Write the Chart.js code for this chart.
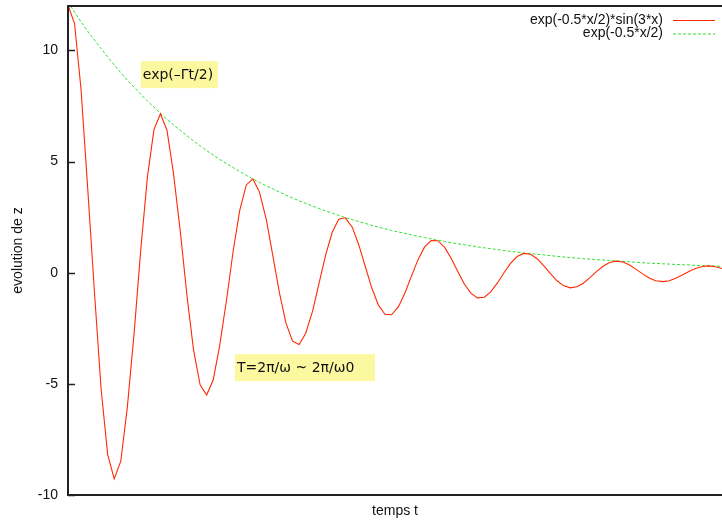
<!DOCTYPE html>
<html>
<head>
<meta charset="utf-8">
<script src="https://cdn.jsdelivr.net/npm/chart.js@4"></script>
<style>
  html, body { margin: 0; padding: 0; background: #fff; }
  #wrap { width: 722px; height: 520px; }
</style>
</head>
<body>
<div id="wrap"><canvas id="dampedChart"></canvas></div>
<script>
// sample positions (t) and values
const tValues = [
    -10.00, -9.85, -9.70, -9.55, -9.39, -9.24, -9.09, -8.94, -8.79, -8.64,
    -8.48, -8.33, -8.18, -8.03, -7.88, -7.73, -7.58, -7.42, -7.27, -7.12,
    -6.97, -6.82, -6.67, -6.52, -6.36, -6.21, -6.06, -5.91, -5.76, -5.61,
    -5.45, -5.30, -5.15, -5.00, -4.85, -4.70, -4.55, -4.39, -4.24, -4.09,
    -3.94, -3.79, -3.64, -3.48, -3.33, -3.18, -3.03, -2.88, -2.73, -2.58,
    -2.42, -2.27, -2.12, -1.97, -1.82, -1.67, -1.52, -1.36, -1.21, -1.06,
    -0.91, -0.76, -0.61, -0.45, -0.30, -0.15, 0.00, 0.15, 0.30, 0.45,
    0.61, 0.76, 0.91, 1.06, 1.21, 1.36, 1.52, 1.67, 1.82, 1.97,
    2.12, 2.27, 2.42, 2.58, 2.73, 2.88, 3.03, 3.18, 3.33, 3.48,
    3.64, 3.79, 3.94, 4.09, 4.24, 4.39, 4.55, 4.70, 4.85, 5.00
];

const dampedSine = [
    12.04, 11.21, 8.23, 3.85, -0.97, -5.24, -8.18, -9.28, -8.48, -6.07,
    -2.64, 1.06, 4.28, 6.43, 7.15, 6.41, 4.46, 1.78, -1.06, -3.48,
    -5.04, -5.50, -4.83, -3.27, -1.17, 1.00, 2.82, 3.95, 4.22, 3.64,
    2.38, 0.75, -0.91, -2.27, -3.08, -3.23, -2.73, -1.73, -0.46, 0.80,
    1.82, 2.41, 2.47, 2.05, 1.25, 0.27, -0.70, -1.46, -1.87, -1.89,
    -1.53, -0.90, -0.14, 0.60, 1.16, 1.45, 1.44, 1.14, 0.64, 0.05,
    -0.51, -0.92, -1.13, -1.10, -0.85, -0.46, 0.00, 0.42, 0.73, 0.87,
    0.83, 0.63, 0.32, -0.03, -0.35, -0.58, -0.68, -0.63, -0.47, -0.22,
    0.05, 0.29, 0.46, 0.52, 0.48, 0.35, 0.15, -0.05, -0.24, -0.36,
    -0.40, -0.36, -0.25, -0.10, 0.06, 0.19, 0.28, 0.31, 0.27, 0.19
];

const envelope = [
    12.18, 11.73, 11.29, 10.87, 10.47, 10.08, 9.71, 9.35, 9.00, 8.66,
    8.34, 8.03, 7.73, 7.45, 7.17, 6.90, 6.65, 6.40, 6.16, 5.93,
    5.71, 5.50, 5.29, 5.10, 4.91, 4.73, 4.55, 4.38, 4.22, 4.06,
    3.91, 3.77, 3.63, 3.49, 3.36, 3.24, 3.12, 3.00, 2.89, 2.78,
    2.68, 2.58, 2.48, 2.39, 2.30, 2.22, 2.13, 2.05, 1.98, 1.90,
    1.83, 1.77, 1.70, 1.64, 1.58, 1.52, 1.46, 1.41, 1.35, 1.30,
    1.26, 1.21, 1.16, 1.12, 1.08, 1.04, 1.00, 0.96, 0.93, 0.89,
    0.86, 0.83, 0.80, 0.77, 0.74, 0.71, 0.68, 0.66, 0.63, 0.61,
    0.59, 0.57, 0.55, 0.53, 0.51, 0.49, 0.47, 0.45, 0.43, 0.42,
    0.40, 0.39, 0.37, 0.36, 0.35, 0.33, 0.32, 0.31, 0.30, 0.29
];

const yTicks = [-10, -5, 0, 5, 10];
const seriesNames = ['exp(-0.5*x/2)*sin(3*x)', 'exp(-0.5*x/2)'];

// text boxes, anchored in data coordinates (top-left corner), w = box width in px
const notes = [
    { text: 'exp(\u2013\u0393t/2)', t: -8.33, z: 9.52, w: 77 },
    { text: 'T=2\u03c0/\u03c9 ~ 2\u03c0/\u03c90', t: -6.17, z: -3.66, w: 140 }
];

const redColor = '#ff2a00';
const greenColor = '#2fe02f';
const labelFont = '14px "Liberation Sans", Arial, sans-serif';

function toPoints(ys) {
    return ys.map((y, i) => ({ x: tValues[i], y: y }));
}

// borders, inward ticks, legend and text boxes
const gnuplotDecor = {
    id: 'gnuplotDecor',
    afterDatasetsDraw(chart) {
        const ctx = chart.ctx;
        const area = chart.chartArea;
        const xs = chart.scales.x;
        const ys = chart.scales.y;
        ctx.save();

        // yellow boxes
        ctx.font = '14px "DejaVu Sans", sans-serif';
        ctx.textBaseline = 'middle';
        ctx.textAlign = 'left';
        notes.forEach(n => {
            const px = xs.getPixelForValue(n.t);
            const py = ys.getPixelForValue(n.z);
            ctx.fillStyle = '#fbf8a0';
            ctx.fillRect(px, py, n.w, 27);
            ctx.fillStyle = '#111';
            ctx.fillText(n.text, px + 2, py + 14);
        });

        // frame
        ctx.strokeStyle = '#222';
        ctx.lineWidth = 2;
        ctx.beginPath();
        ctx.moveTo(area.right + 2, area.top);
        ctx.lineTo(area.left, area.top);
        ctx.lineTo(area.left, area.bottom);
        ctx.lineTo(area.right + 2, area.bottom);
        ctx.stroke();

        // inward tick marks
        ctx.lineWidth = 1.5;
        ctx.beginPath();
        yTicks.forEach(v => {
            const py = Math.round(ys.getPixelForValue(v)) + 0.5;
            ctx.moveTo(area.left, py);
            ctx.lineTo(area.left + 7, py);
        });
        ctx.stroke();

        // legend (text right aligned, sample line on the right)
        ctx.font = labelFont;
        ctx.textAlign = 'right';
        ctx.fillStyle = '#111';
        const colors = [redColor, greenColor];
        const dashes = [[], [3, 2]];
        seriesNames.forEach((name, i) => {
            const ly = 20 + i * 13.5;
            ctx.fillText(name, 663, ly);
            ctx.strokeStyle = colors[i];
            ctx.lineWidth = 1;
            ctx.setLineDash(dashes[i]);
            ctx.beginPath();
            ctx.moveTo(673, ly + 0.5);
            ctx.lineTo(715, ly + 0.5);
            ctx.stroke();
        });
        ctx.setLineDash([]);
        ctx.restore();
    }
};

const ctx = document.getElementById('dampedChart').getContext('2d');
const dampedChart = new Chart(ctx, {
    type: 'line',
    data: {
        datasets: [{
            label: seriesNames[0],
            data: toPoints(dampedSine),
            borderColor: redColor,
            borderWidth: 1.1,
            pointRadius: 0,
            tension: 0,
            fill: false
        }, {
            label: seriesNames[1],
            data: toPoints(envelope),
            borderColor: greenColor,
            borderWidth: 1,
            borderDash: [3, 2],
            pointRadius: 0,
            tension: 0,
            fill: false
        }]
    },
    options: {
        responsive: true,
        maintainAspectRatio: false,
        animation: false,
        layout: {
            padding: { top: 6, right: 0, bottom: 0, left: 0 }
        },
        plugins: {
            legend: { display: false },
            tooltip: { enabled: false }
        },
        scales: {
            x: {
                type: 'linear',
                min: -10,
                max: 5,
                ticks: { display: false },
                grid: { display: false, drawTicks: false },
                border: { display: false },
                title: {
                    display: true,
                    text: 'temps t',
                    color: '#111',
                    font: { size: 14, family: '"Liberation Sans", Arial, sans-serif' },
                    padding: { top: 0, bottom: 0 }
                },
                afterFit: function(scale) {
                    scale.height = 25;
                    scale.paddingLeft = 0;
                    scale.paddingRight = 0;
                }
            },
            y: {
                min: -10,
                max: 12,
                afterBuildTicks: function(scale) {
                    scale.ticks = yTicks.map(v => ({ value: v }));
                },
                ticks: {
                    color: '#111',
                    padding: 10,
                    font: { size: 14, family: '"Liberation Sans", Arial, sans-serif' }
                },
                grid: { display: false, drawTicks: false },
                border: { display: false },
                title: {
                    display: true,
                    text: 'evolution de z',
                    color: '#111',
                    font: { size: 14, family: '"Liberation Sans", Arial, sans-serif' },
                    padding: { top: 10, bottom: 0 }
                },
                afterFit: function(scale) {
                    scale.width = 68;
                    scale.paddingTop = 0;
                    scale.paddingBottom = 0;
                }
            }
        }
    },
    plugins: [gnuplotDecor]
});
</script>
</body>
</html>
